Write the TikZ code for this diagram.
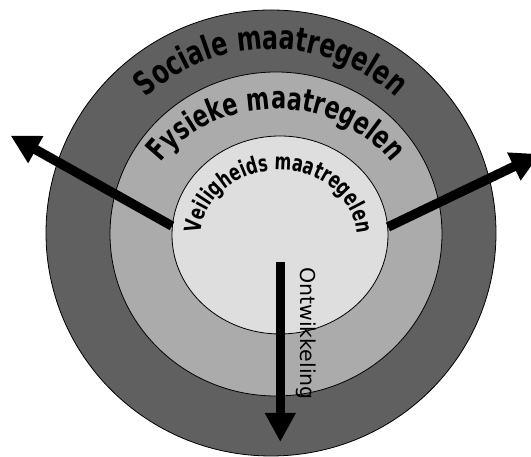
\documentclass[tikz,border=0pt]{standalone}
\usepackage{fontspec}
\setmainfont{DejaVu Sans}
\newfontfamily\arcfont[FakeStretch=0.72]{DejaVu Sans}
\newfontfamily\arcfontn[FakeStretch=0.70]{DejaVu Sans}
\usetikzlibrary{shapes.geometric,decorations.text,arrows.meta}
\definecolor{ringouter}{HTML}{606060}
\definecolor{ringmid}{HTML}{ABABAB}
\definecolor{ringinner}{HTML}{DEDEDE}
\begin{document}
\begin{tikzpicture}[x=1pt,y=1pt,
  ring/.style={ellipse, draw=black, line width=0.8pt, inner sep=0pt},
  bigarrow/.style={line width=9.5pt, line cap=butt, -{Triangle[length=29pt,width=29pt]}}]
\useasboundingbox (0,0) rectangle (531,457);
\clip (0,0) rectangle (531,457);
\node[ring, fill=ringouter, minimum width=450pt, minimum height=446pt] (outer) at (271,224) {};
\node[ring, fill=ringmid, minimum width=332pt, minimum height=324pt] (middle) at (276,223) {};
\node[ring, fill=ringinner, minimum width=216pt, minimum height=198pt] (inner) at (280,222) {};
\path[decorate, decoration={text along path, text align=center,
  text={|\arcfont\bfseries\fontsize{33pt}{35pt}\selectfont|Sociale maatregelen}}]
  (87,224) arc[start angle=180, end angle=0, radius=184pt];
\path[decorate, decoration={text along path, text align=center,
  text={|\arcfont\bfseries\fontsize{31pt}{33pt}\selectfont|Fysieke maatregelen}}]
  (136,223) arc[start angle=180, end angle=0, x radius=140pt, y radius=125pt];
\path[decorate, decoration={text along path, text align=center,
  text={|\arcfontn\bfseries\fontsize{23pt}{25pt}\selectfont|Veiligheids maatregelen}}]
  (201,220) arc[start angle=180, end angle=0, x radius=78pt, y radius=67pt];
\node[font=\fontsize{20.5pt}{22pt}\selectfont, rotate=-90, anchor=base west, inner sep=0pt] (ontw) at (300,190) {Ontwikkeling};
\coordinate (ltail) at (172,231);
\coordinate (ltip) at (10.5,321.5);
\coordinate (rtail) at (388,230);
\coordinate (rtip) at (540,303);
\coordinate (dtail) at (280.3,195);
\coordinate (dtip) at (280.3,15);
\draw[bigarrow] (ltail) -- (ltip);
\draw[bigarrow] (rtail) -- (rtip);
\draw[bigarrow] (dtail) -- (dtip);
\end{tikzpicture}
\end{document}
